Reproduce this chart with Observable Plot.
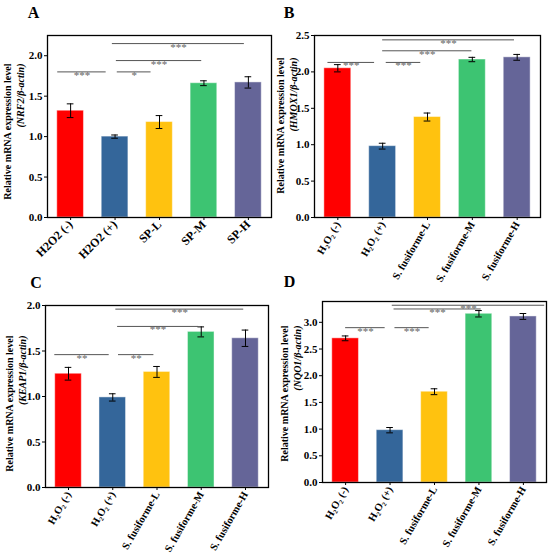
<!DOCTYPE html>
<html>
<head>
<meta charset="utf-8">
<script src="https://cdn.jsdelivr.net/npm/d3@7"></script>
<script src="https://cdn.jsdelivr.net/npm/@observablehq/plot@0.6"></script>
<style>
  body { margin: 0; background: #fff; }
  #wrap { position: relative; width: 550px; height: 554px; background: #fff; overflow: hidden; }
  .cell { position: absolute; width: 275px; height: 277px; }
</style>
</head>
<body>
<div id="wrap"></div>
<script>
// ---- data ----
const groupsA = ["H2O2 (-)", "H2O2 (+)", "SP-L", "SP-M", "SP-H"];
const groupsS = ["H₂O₂ (-)", "H₂O₂ (+)", "S. fusiforme-L", "S. fusiforme-M", "S. fusiforme-H"];
const barColors = ["#FF0000", "#34669A", "#FFC20F", "#3DC472", "#656598"];

const nrf2Mean = [1.32, 1.00, 1.18, 1.66, 1.67];
const nrf2Err  = [0.085, 0.02, 0.08, 0.03, 0.07];
const hmox1Mean = [2.05, 0.98, 1.38, 2.17, 2.20];
const hmox1Err  = [0.05, 0.04, 0.055, 0.03, 0.04];
const keap1Mean = [1.25, 0.99, 1.27, 1.71, 1.64];
const keap1Err  = [0.07, 0.04, 0.06, 0.055, 0.09];
const nqo1Mean = [2.70, 0.98, 1.70, 3.16, 3.11];
const nqo1Err  = [0.045, 0.05, 0.055, 0.06, 0.055];

// significance brackets: [from group index, to group index, level, label]
const sigA = [[-0.29, 0.80, 1.80, "***"], [1.05, 1.81, 1.80, "*"], [1.03, 2.95, 1.94, "***"], [0.94, 3.91, 2.15, "***"]];
const sigB = [[-0.22, 0.82, 2.13, "***"], [1.08, 1.85, 2.13, "***"], [1.00, 2.99, 2.29, "***"], [1.00, 3.94, 2.44, "***"]];
const sigC = [[-0.31, 0.92, 1.46, "**"], [1.13, 1.93, 1.46, "**"], [1.11, 2.94, 1.77, "***"], [1.07, 3.96, 1.96, "***"]];
const sigD = [[0.00, 0.89, 2.90, "***"], [1.11, 1.88, 2.90, "***"], [1.09, 3.05, 3.25, "***"], [1.05, 4.48, 3.32, "***"]];

const panels = [
  {letter: "A", groups: groupsA, mean: nrf2Mean, err: nrf2Err, sig: sigA, gene: "(NRF2/β-actin)", yMax: 2.25, tickMax: 2.0, rot: -45,
   left: 0, top: 0, m: [35, 4, 60, 47], title: [7.3, 20.7, 63], let: [33, 17]},
  {letter: "B", groups: groupsS, mean: hmox1Mean, err: hmox1Err, sig: sigB, gene: "(HMOX1/β-actin)", yMax: 2.5, tickMax: 2.5, rot: -60,
   left: 275, top: 0, m: [35, 10, 60, 39], title: [5.5, 18.5, 57], let: [13.5, 17]},
  {letter: "C", groups: groupsS, mean: keap1Mean, err: keap1Err, sig: sigC, gene: "(KEAP1/β-actin)", yMax: 2.0, tickMax: 2.0, rot: -60,
   left: 0, top: 277, m: [28, 7, 67, 45], title: [9.3, 22.7, 58], let: [35.5, 10]},
  {letter: "D", groups: groupsS, mean: nqo1Mean, err: nqo1Err, sig: sigD, gene: "(NQO1/β-actin)", yMax: 3.39, tickMax: 3.0, rot: -60,
   left: 275, top: 277, m: [24, 4, 72, 47], title: [9.3, 22.7, 48], let: [14, 9]}
];

const font = "'Liberation Serif', 'Times New Roman', serif";
const wrap = document.getElementById("wrap");

for (const p of panels) {
  const data = p.groups.map((g, i) => ({i, g, mean: p.mean[i], err: p.err[i], color: barColors[i]}));
  const sig = p.sig.map(([from, to, level, label]) => ({from, to, level, label}));
  const [mt, mr, mb, ml] = p.m;
  const chart = Plot.plot({
    width: 275,
    height: 277,
    marginTop: mt, marginRight: mr, marginBottom: mb, marginLeft: ml,
    style: {fontFamily: font, fontWeight: "bold", fontSize: "10px", background: "transparent", overflow: "visible"},
    x: {domain: [-0.52, 4.52]},
    y: {domain: [0, p.yMax]},
    color: {type: "identity"},
    marks: [
      Plot.rectY(data, {x1: d => d.i - 0.3, x2: d => d.i + 0.3, y1: 0, y2: "mean", fill: "color",
        stroke: "white", strokeOpacity: 0.45, strokeWidth: 1}),
      Plot.ruleX(data, {x: "i", y1: d => d.mean - d.err, y2: d => d.mean + d.err, stroke: "black", strokeWidth: 1}),
      Plot.ruleY(data, {y: d => d.mean + d.err, x1: d => d.i - 0.075, x2: d => d.i + 0.075, stroke: "black", strokeWidth: 1}),
      Plot.ruleY(data, {y: d => d.mean - d.err, x1: d => d.i - 0.075, x2: d => d.i + 0.075, stroke: "black", strokeWidth: 1}),
      Plot.ruleY(sig, {y: "level", x1: "from", x2: "to", stroke: "#555", strokeWidth: 1}),
      Plot.text(sig, {x: d => (d.from + d.to) / 2, y: "level", text: "label", fill: "#666", fontSize: 11,
        fontWeight: "normal", lineAnchor: "middle", dy: 3.5}),
      Plot.frame({stroke: "black", strokeWidth: 1.3}),
      Plot.axisY({ticks: d3.range(0, p.tickMax + 0.01, 0.5), tickFormat: d => d.toFixed(1), tickSize: 3,
        tickPadding: 2, label: null, fontSize: 11}),
      Plot.axisX({ticks: [0, 1, 2, 3, 4], tickFormat: i => p.groups[i], tickRotate: p.rot, tickSize: 3,
        tickPadding: 2, label: null, fontSize: p.rot === -45 ? 12 : 10.5}),
      Plot.text([p.letter], {frameAnchor: "top-left", dx: p.let[0] - ml, dy: p.let[1] - mt, text: d => d,
        fontSize: 16, lineAnchor: "bottom", textAnchor: "middle"}),
      Plot.text(["Relative mRNA expression level"], {frameAnchor: "top-left", dx: p.title[0] - ml, dy: p.title[2] - mt,
        text: d => d, rotate: -90, textAnchor: "end", lineAnchor: "middle", fontSize: 10}),
      Plot.text([p.gene], {frameAnchor: "top-left", dx: p.title[1] - ml, dy: p.title[2] - mt,
        text: d => d, rotate: -90, textAnchor: "end", lineAnchor: "middle", fontSize: 10, fontStyle: "italic"})
    ]
  });
  const cell = document.createElement("div");
  cell.className = "cell";
  cell.style.left = p.left + "px";
  cell.style.top = p.top + "px";
  cell.appendChild(chart);
  wrap.appendChild(cell);
}
</script>
</body>
</html>
